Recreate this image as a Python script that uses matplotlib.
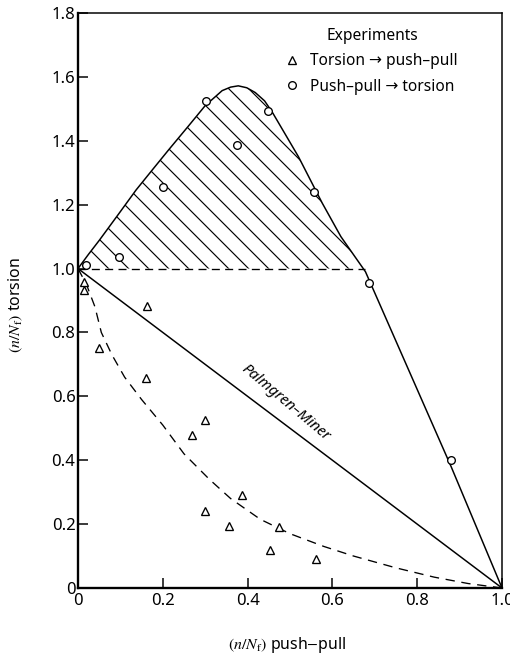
import numpy as np
import matplotlib
matplotlib.use('Agg')
import matplotlib.pyplot as plt

plt.rcParams['font.family'] = ['Noto Sans', 'DejaVu Sans']
plt.rcParams['mathtext.fontset'] = 'stix'
plt.rcParams['hatch.linewidth'] = 0.7

# push-pull -> torsion (circles)
pt_x = [0.02, 0.096, 0.20, 0.303, 0.374, 0.449, 0.556, 0.686, 0.88]
pt_y = [1.01, 1.035, 1.255, 1.523, 1.387, 1.494, 1.24, 0.955, 0.40]

# torsion -> push-pull (triangles)
tp_x = [0.014, 0.014, 0.162, 0.049, 0.16, 0.299, 0.268, 0.386, 0.299, 0.355, 0.473, 0.452, 0.562]
tp_y = [0.958, 0.933, 0.883, 0.75, 0.657, 0.526, 0.479, 0.29, 0.24, 0.194, 0.19, 0.12, 0.09]

# upper envelope (solid)
env_x = [0.0, 0.025, 0.05, 0.097, 0.137, 0.176, 0.214, 0.261, 0.30, 0.34, 0.36, 0.378,
         0.398, 0.418, 0.44, 0.458, 0.52, 0.576, 0.62, 0.678, 0.88, 1.0]
env_y = [1.0, 1.045, 1.088, 1.173, 1.246, 1.31, 1.372, 1.447, 1.51, 1.557, 1.568, 1.572,
         1.566, 1.551, 1.525, 1.49, 1.35, 1.205, 1.10, 0.99, 0.38, 0.0]

# lower dashed fit curve
fit_x = [0.0, 0.02, 0.04, 0.055, 0.08, 0.11, 0.15, 0.20, 0.25, 0.31, 0.36, 0.43,
         0.50, 0.58, 0.65, 0.75, 0.84, 0.92, 1.0]
fit_y = [1.0, 0.95, 0.88, 0.80, 0.73, 0.66, 0.59, 0.51, 0.42, 0.34, 0.28, 0.215,
         0.17, 0.13, 0.10, 0.063, 0.034, 0.014, 0.0]

# Palmgren-Miner line
pm_x = [0.0, 1.0]
pm_y = [1.0, 0.0]

fig = plt.figure(figsize=(4.25, 658 / 120), dpi=120)
ax = fig.add_axes([78 / 510, 70 / 658, 424 / 510, 575 / 658])

# hatched region between envelope and n/Nf = 1
k = env_x.index(0.678) + 1
ax.fill_between(env_x[:k], 1.0, env_y[:k], facecolor='none', edgecolor='black',
                hatch='\\\\', linewidth=0)
ax.plot([0.0, 0.678], [1.0, 1.0], color='black', lw=0.8, dashes=(6, 4))

ax.plot(env_x, env_y, color='black', lw=0.9)
ax.plot(pm_x, pm_y, color='black', lw=0.9)
ax.plot(fit_x, fit_y, color='black', lw=0.8, dashes=(7, 5))

h1, = ax.plot(tp_x, tp_y, ls='none', marker='^', ms=4.6, mfc='white', mec='black', mew=0.8)
h2, = ax.plot(pt_x, pt_y, ls='none', marker='o', ms=4.6, mfc='white', mec='black', mew=0.8)

ax.text(0.489, 0.579, 'Palmgren\u2013Miner', rotation=-40, rotation_mode='anchor',
        ha='center', va='center', fontsize=9, style='italic')

leg = ax.legend([h1, h2], ['Torsion \u2192 push\u2013pull', 'Push\u2013pull \u2192 torsion'],
                title='Experiments', frameon=False, loc='upper left',
                bbox_to_anchor=(0.475, 0.988), borderpad=0, fontsize=9.3,
                handlelength=0.6, handletextpad=0.9, labelspacing=0.62,
                title_fontproperties={'size': 9.3})

ax.set_xlim(0, 1.0)
ax.set_ylim(0, 1.8)
ax.set_xticks([0, 0.2, 0.4, 0.6, 0.8, 1.0])
ax.set_xticklabels(['0', '0.2', '0.4', '0.6', '0.8', '1.0'])
ax.set_yticks([0, 0.2, 0.4, 0.6, 0.8, 1.0, 1.2, 1.4, 1.6, 1.8])
ax.set_yticklabels(['0', '0.2', '0.4', '0.6', '0.8', '1.0', '1.2', '1.4', '1.6', '1.8'])
ax.tick_params(direction='in', length=6, width=0.9, labelsize=10)
ax.tick_params(axis='y', pad=1.5)
ax.tick_params(axis='x', pad=3)
ax.spines['left'].set_linewidth(1.4)
ax.spines['bottom'].set_linewidth(1.4)
ax.spines['top'].set_linewidth(0.9)
ax.spines['right'].set_linewidth(0.9)

fig.text(287 / 510, 1 - 645 / 658, r'$(n/N_{\rm f})$ push$-$pull', ha='center', va='center', fontsize=9.5)
fig.text(16 / 510, 1 - 305 / 658, r'$(n/N_{\rm f})$ torsion', ha='center', va='center',
         rotation=90, fontsize=9.5)

fig.savefig('out.png', dpi=120)
